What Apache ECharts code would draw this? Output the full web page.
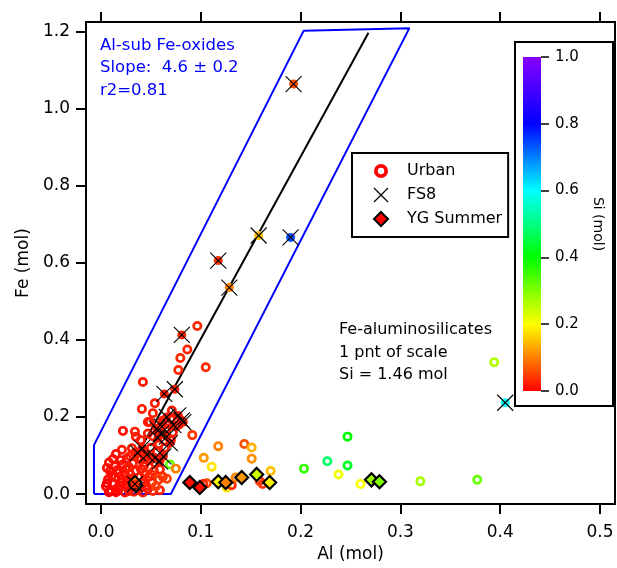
<!DOCTYPE html>
<html><head><meta charset="utf-8">
<script src="https://cdn.jsdelivr.net/npm/echarts@6/dist/echarts.min.js"></script>
<style>html,body{margin:0;padding:0;background:#fff}#c{width:617px;height:568px}</style>
</head><body><div id="c"></div>
<script>
// ---- data: [Al (mol), Fe (mol), Si (mol)] ----
const xTicks = [0, 0.1, 0.2, 0.3, 0.4, 0.5];
const yTicks = [0, 0.2, 0.4, 0.6, 0.8, 1.0, 1.2];
const siColors = ['#ff0000', '#ffff00', '#00ff00', '#00ffff', '#0000ff', '#8800ff'];

const urban = [
  [0.0965,0.436,0.03],[0.0865,0.375,0.03],[0.0795,0.353,0.03],[0.0775,0.322,0.03],[0.105,0.329,0.03],
  [0.042,0.291,0.02],[0.054,0.236,0.02],[0.041,0.221,0.02],[0.052,0.210,0.02],[0.071,0.217,0.02],
  [0.047,0.187,0.02],[0.061,0.183,0.02],[0.034,0.162,0.02],[0.022,0.164,0.01],[0.049,0.187,0.02],
  [0.035,0.149,0.02],[0.047,0.157,0.02],[0.0915,0.153,0.04],[0.065,0.165,0.02],[0.070,0.140,0.02],
  [0.075,0.175,0.03],[0.062,0.190,0.02],[0.070,0.195,0.02],[0.078,0.180,0.02],[0.066,0.170,0.02],
  [0.058,0.130,0.02],[0.064,0.120,0.02],[0.072,0.160,0.02],[0.052,0.150,0.02],
  [0.012,0.091,0.01],[0.022,0.077,0.01],[0.029,0.098,0.02],[0.037,0.094,0.02],[0.044,0.081,0.02],
  [0.014,0.072,0.01],[0.054,0.081,0.02],[0.059,0.064,0.02],[0.069,0.077,0.32],[0.075,0.066,0.10],
  [0.066,0.040,0.05],[0.059,0.010,0.02],[0.041,0.030,0.02],[0.007,0.038,0.01],[0.014,0.043,0.01],
  [0.024,0.051,0.01],[0.017,0.017,0.01],[0.027,0.021,0.01],[0.044,0.051,0.02],[0.051,0.030,0.02],
  [0.047,0.013,0.02],[0.009,0.060,0.01],[0.021,0.115,0.02],[0.031,0.119,0.02],[0.010,0.010,0.00],
  [0.015,0.005,0.00],[0.020,0.030,0.01],[0.030,0.040,0.02],[0.035,0.060,0.02],[0.025,0.065,0.01],
  [0.040,0.065,0.02],[0.048,0.045,0.02],[0.018,0.055,0.01],[0.032,0.080,0.02],[0.045,0.100,0.02],
  [0.005,0.020,0.00],[0.012,0.028,0.01],[0.028,0.008,0.01],[0.038,0.012,0.02],[0.053,0.060,0.03],
  [0.056,0.110,0.02],[0.040,0.140,0.02],[0.062,0.045,0.04],[0.050,0.120,0.02],[0.026,0.092,0.01],
  [0.008,0.005,0.00],[0.016,0.012,0.01],[0.024,0.004,0.01],[0.033,0.006,0.02],[0.042,0.004,0.02],
  [0.052,0.008,0.03],[0.006,0.028,0.00],[0.019,0.022,0.01],[0.026,0.032,0.01],[0.036,0.024,0.02],
  [0.045,0.022,0.02],[0.055,0.020,0.05],[0.011,0.048,0.01],[0.021,0.040,0.01],[0.029,0.052,0.02],
  [0.039,0.045,0.02],[0.050,0.052,0.03],[0.058,0.038,0.04],[0.006,0.068,0.01],[0.016,0.062,0.01],
  [0.028,0.070,0.02],[0.043,0.072,0.02],[0.049,0.088,0.02],[0.020,0.088,0.01],[0.034,0.108,0.02],
  [0.015,0.104,0.01],[0.040,0.090,0.02],[0.008,0.082,0.01],[0.030,0.030,0.02],[0.052,0.095,0.03],
  [0.1175,0.124,0.10],[0.103,0.094,0.12],[0.111,0.071,0.18],[0.106,0.028,0.06],[0.1025,0.026,0.03],
  [0.1436,0.130,0.06],[0.151,0.121,0.14],[0.151,0.092,0.11],[0.170,0.060,0.15],[0.126,0.017,0.18],
  [0.131,0.023,0.03],[0.135,0.043,0.10],[0.159,0.034,0.04],[0.162,0.026,0.04],[0.2034,0.066,0.36],
  [0.2268,0.085,0.48],[0.247,0.149,0.40],[0.247,0.074,0.43],[0.238,0.051,0.21],[0.260,0.026,0.20],
  [0.320,0.033,0.27],[0.377,0.037,0.32],[0.394,0.342,0.26]
];

const fs8 = [
  [0.193,1.064,0.06],[0.158,0.671,0.15],[0.190,0.666,0.74],[0.1175,0.606,0.04],[0.1286,0.536,0.10],
  [0.405,0.237,0.60],
  [0.081,0.413,0.03],[0.074,0.272,0.02],[0.0635,0.260,0.02],[0.0775,0.204,0.02],[0.066,0.200,0.02],
  [0.0825,0.187,0.02],[0.0725,0.179,0.02],[0.081,0.191,0.02],[0.061,0.175,0.02],[0.056,0.170,0.02],
  [0.060,0.157,0.02],[0.066,0.149,0.02],[0.057,0.145,0.02],[0.069,0.132,0.02],[0.041,0.119,0.02],
  [0.037,0.106,0.02],[0.046,0.102,0.02],[0.054,0.094,0.02],[0.0625,0.098,0.02],[0.059,0.085,0.02],
  [0.034,0.026,0.03]
];

const ygSummer = [
  [0.089,0.030,0.01],[0.099,0.017,0.01],[0.1175,0.032,0.20],[0.125,0.030,0.10],[0.141,0.043,0.12],
  [0.156,0.051,0.24],[0.169,0.030,0.19],[0.271,0.037,0.28],[0.279,0.032,0.30],[0.035,0.022,0.05],
  [0.034,0.030,0.12]
];

const envelope = [[-0.007,0],[-0.007,0.127],[0.203,1.202],[0.309,1.209],[0.070,0],[-0.007,0]];
const fitLine = [[0.035,0.095],[0.268,1.197]];

const FONT = '"DejaVu Sans", sans-serif';
const xShape = 'path://M0,0L10,10M10,0L0,10';
// ring: outer circle clockwise, inner circle counter-clockwise (hole)
const ringShape = 'path://M0,-5A5,5,0,1,1,0,5A5,5,0,1,1,0,-5ZM0,-2.3A2.3,2.3,0,1,0,0,2.3A2.3,2.3,0,1,0,0,-2.3Z';

const chart = echarts.init(document.getElementById('c'));
const frameLine = {show:true, onZero:false, lineStyle:{color:'#000', width:2}};
const tickStyle = {color:'#000', width:2};

const gradStops = siColors.map((c, i) => ({offset: i / (siColors.length - 1), color: c}));

chart.setOption({
  animation: false,
  textStyle: {fontFamily: FONT},
  grid: [
    {left: 86, top: 22, width: 529, height: 490},
    {left: 523, top: 57, width: 18, height: 334}
  ],
  xAxis: [
    {gridIndex:0, type:'value', min:-0.015, max:0.515, position:'bottom',
     axisLine: frameLine,
     axisTick:{show:true, inside:false, length:10, lineStyle:tickStyle, customValues:xTicks},
     axisLabel:{customValues:xTicks, formatter:v=>v.toFixed(1), fontSize:17, color:'#000', margin:20, fontFamily:FONT},
     splitLine:{show:false},
     name:'Al (mol)', nameLocation:'middle', nameGap:40,
     nameTextStyle:{fontSize:17, color:'#000', fontFamily:FONT}},
    {gridIndex:0, type:'value', min:-0.015, max:0.515, position:'top',
     axisLine: frameLine,
     axisTick:{show:true, inside:false, length:10, lineStyle:tickStyle, customValues:xTicks},
     axisLabel:{show:false}, splitLine:{show:false}},
    {gridIndex:1, type:'category', data:[''], show:false}
  ],
  yAxis: [
    {gridIndex:0, type:'value', min:-0.026, max:1.225, position:'left',
     axisLine: frameLine,
     axisTick:{show:true, inside:false, length:10, lineStyle:tickStyle, customValues:yTicks},
     axisLabel:{customValues:yTicks, formatter:v=>v.toFixed(1), fontSize:17, color:'#000', margin:16, fontFamily:FONT},
     splitLine:{show:false},
     name:'Fe (mol)', nameLocation:'middle', nameGap:54,
     nameTextStyle:{fontSize:17, color:'#000', fontFamily:FONT}},
    {gridIndex:0, type:'value', min:-0.026, max:1.225, position:'right',
     axisLine: frameLine, axisTick:{show:false}, axisLabel:{show:false}, splitLine:{show:false}},
    {gridIndex:1, type:'value', min:0, max:1, interval:0.2, position:'right',
     axisLine:{show:false},
     axisTick:{show:true, inside:false, length:8, lineStyle:{color:'#000', width:1.5}},
     axisLabel:{formatter:v=>v.toFixed(1), fontSize:15, color:'#000', margin:14, fontFamily:FONT},
     splitLine:{show:false},
     name:'Si (mol)', nameLocation:'middle', nameRotate:-90, nameGap:50,
     nameTextStyle:{fontSize:14, color:'#000', fontFamily:FONT}}
  ],
  visualMap: {type:'continuous', show:false, dimension:2, min:0, max:1,
              seriesIndex:[2,3,4], inRange:{color:siColors}},
  legend: {
    data: [
      {name:'Urban', icon:ringShape, itemStyle:{color:'#ff0000', opacity:1}},
      {name:'FS8', icon:xShape, itemStyle:{color:'rgba(0,0,0,0)', borderColor:'#000', borderWidth:1.2}},
      {name:'YG Summer', icon:'diamond', itemStyle:{color:'#ff0000', borderColor:'#000', borderWidth:2, opacity:1}}
    ],
    orient:'vertical', left:352, top:153, padding:[10,6,10,21],
    itemWidth:14, itemHeight:14, itemGap:8,
    borderColor:'#000', borderWidth:2, backgroundColor:'#fff',
    selectedMode:false,
    textStyle:{fontSize:16, color:'#000', fontFamily:FONT, padding:[0,0,0,14]}
  },
  series: [
    {type:'line', name:'envelope', data:envelope, symbol:'none', z:1,
     lineStyle:{color:'#0000ff', width:2}, silent:true},
    {type:'line', name:'fit', data:fitLine, symbol:'none', z:1,
     lineStyle:{color:'#000', width:2}, silent:true},
    {type:'scatter', name:'Urban', data:urban, symbol:ringShape, symbolSize:10, z:2,
     itemStyle:{color:'#ff0000', opacity:1}},
    {type:'scatter', name:'YG Summer', data:ygSummer, symbol:'diamond', symbolSize:13, z:3,
     itemStyle:{color:'#ff0000', borderColor:'#000', borderWidth:2.2, opacity:1}},
    {type:'scatter', name:'FS8 fill', data:fs8, symbol:'circle', symbolSize:9, z:4,
     itemStyle:{opacity:1}},
    {type:'scatter', name:'FS8', data:fs8, symbol:xShape, symbolSize:16, z:5,
     itemStyle:{color:'rgba(0,0,0,0)', borderColor:'#000', borderWidth:1.1, opacity:1}},
    {type:'bar', name:'colorbar', xAxisIndex:2, yAxisIndex:2, data:[1], barWidth:'100%', silent:true,
     itemStyle:{color:new echarts.graphic.LinearGradient(0, 1, 0, 0, gradStops)}}
  ],
  graphic: [
    {type:'rect', shape:{x:515, y:42, width:98, height:364}, z:0,
     style:{fill:'none', stroke:'#000', lineWidth:2}},
    {type:'text', left:100, top:34,
     style:{text:'Al-sub Fe-oxides\nSlope:  4.6 \u00b1 0.2\nr2=0.81', fill:'#0000ff',
            font:'16.5px ' + FONT, lineHeight:22.5}},
    {type:'text', left:339, top:319,
     style:{text:'Fe-aluminosilicates\n1 pnt of scale\nSi = 1.46 mol', fill:'#000',
            font:'16px ' + FONT, lineHeight:22.5}}
  ]
});
</script>
</body></html>
